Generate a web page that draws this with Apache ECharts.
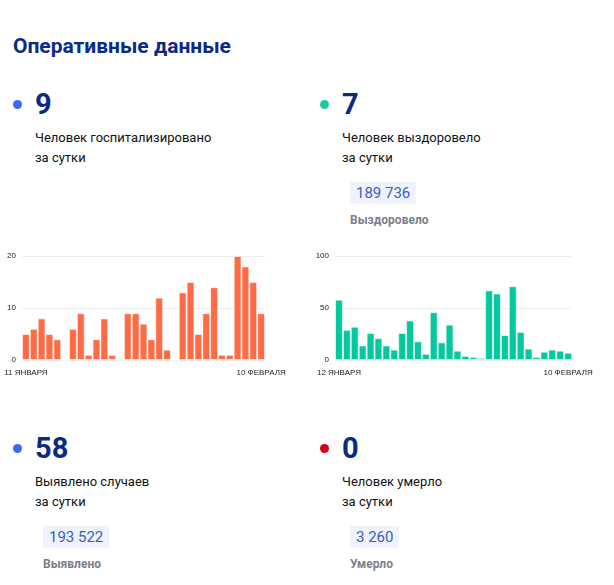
<!DOCTYPE html>
<html>
<head>
<meta charset="UTF-8">
<script src="https://cdn.jsdelivr.net/npm/echarts@6/dist/echarts.min.js"></script>
<style>
body{margin:0;width:614px;height:585px;font-family:Roboto,sans-serif;background:#fff;position:relative;overflow:hidden}
.t{position:absolute;left:13px;top:34px;font-size:21px;font-weight:bold;color:#0b2a82}
.blk{position:absolute}
.dot{position:absolute;width:9px;height:9px;border-radius:50%;top:14px;left:0}
.num{position:absolute;left:22px;top:0;font-size:29px;font-weight:bold;color:#0b2a82;line-height:36px}
.lab{position:absolute;left:22px;top:42px;font-size:13px;color:#111;line-height:20px;white-space:nowrap}
.badge{position:absolute;left:30px;top:96px;background:#eef3fd;color:#3b5cc4;font-size:15px;padding:1px 6px;line-height:20px;white-space:nowrap}
.sub{position:absolute;left:30px;top:127px;font-size:12px;color:#7b7f8a;font-weight:bold;white-space:nowrap}
.ch{position:absolute}
</style>
</head>
<body>
<div class="t">Оперативные данные</div>
<div class="blk" style="left:13px;top:86px"><div class="dot" style="background:#3d6bf0"></div><div class="num">9</div><div class="lab">Человек госпитализировано<br>за сутки</div></div>
<div class="blk" style="left:320px;top:86px"><div class="dot" style="background:#1ec9a0"></div><div class="num">7</div><div class="lab">Человек выздоровело<br>за сутки</div><div class="badge">189 736</div><div class="sub">Выздоровело</div></div>
<div class="blk" style="left:13px;top:430px"><div class="dot" style="background:#3d6bf0"></div><div class="num">58</div><div class="lab">Выявлено случаев<br>за сутки</div><div class="badge">193 522</div><div class="sub">Выявлено</div></div>
<div class="blk" style="left:320px;top:430px"><div class="dot" style="background:#d0021b"></div><div class="num">0</div><div class="lab">Человек умерло<br>за сутки</div><div class="badge">3 260</div><div class="sub">Умерло</div></div>
<div id="c1" class="ch" style="left:0;top:245px;width:300px;height:140px"></div>
<div id="c2" class="ch" style="left:300px;top:245px;width:300px;height:140px"></div>
<script>
var hospDays = [];
for (var d = 11; d <= 31; d++) hospDays.push(d + ' ЯНВАРЯ');
for (var d = 1; d <= 10; d++) hospDays.push(d + ' ФЕВРАЛЯ');
var hospValues = [5,6,8,5,4,0,6,9,1,4,8,1,0,9,9,7,4,12,2,0,13,15,5,9,14,1,1,20,18,15,9];
var recDays = hospDays.slice(1);
var recValues = [58,29,32,14,26,21,14,10,26,38,18,6,46,17,34,9,4,3,2,67,64,24,71,27,11,3,8,10,9,7];

function opt(cats, vals, color, max, interval, left, right) {
  return {
    animation: false,
    grid: {left: left, right: right, top: 11, bottom: 25},
    xAxis: {
      type: 'category', data: cats,
      axisLine: {show: false}, axisTick: {show: false},
      axisLabel: {
        fontSize: 8, color: '#222', margin: 9,
        interval: function (i) { return i === 0 || i === cats.length - 1; }
      }
    },
    yAxis: {
      type: 'value', min: 0, max: max, interval: interval,
      axisLabel: {fontSize: 8, color: '#222', margin: 6},
      splitLine: {lineStyle: {color: '#eee'}}
    },
    series: [{
      type: 'bar', data: vals, barCategoryGap: '0%',
      itemStyle: {color: color, borderColor: 'rgba(255,255,255,0.6)', borderWidth: 1}
    }]
  };
}
echarts.init(document.getElementById('c1')).setOption(opt(hospDays, hospValues, '#ff6b45', 20, 10, 22, 35));
echarts.init(document.getElementById('c2')).setOption(opt(recDays, recValues, '#06c89f', 100, 50, 35, 28));
</script>
</body>
</html>
